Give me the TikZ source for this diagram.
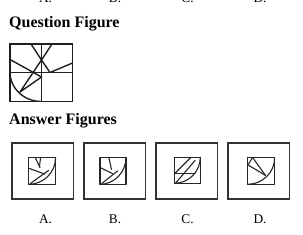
\documentclass[tikz,border=0pt]{standalone}
\usepackage{fontspec}
\setmainfont{Liberation Serif}
\begin{document}
\begin{tikzpicture}[x=1pt,y=-1pt,
  qframe/.style={draw=black!88,line width=1.6pt},
  qline/.style={draw=black!88,line width=1.4pt,line cap=round,line join=round},
  abox/.style={draw=black!80,line width=1.3pt},
  iline/.style={draw=black!85,line width=1.1pt,line cap=round,line join=round},
  head/.style={anchor=base west,inner sep=0pt,font=\fontsize{16}{19}\selectfont\bfseries},
  lab/.style={anchor=base,inner sep=0pt,font=\fontsize{13.3}{16}\selectfont}]
\useasboundingbox (0,0) rectangle (303,234);
% cut-off labels at the top edge
\node[lab] (ta) at (45.5,2.6) {A.};
\node[lab] (tb) at (115,2.6) {B.};
\node[lab] (tc) at (187.5,2.6) {C.};
\node[lab] (td) at (260,2.6) {D.};
% headings
\node[head] (hq) at (9,27) {Question Figure};
\node[head] (ha) at (9,124) {Answer Figures};
% question figure
\begin{scope}
\clip (10,44) rectangle (72.5,101.5);
\draw[qline] (10,72.5) .. controls (10,88.5) and (24.1,101.5) .. (41.5,101.5);
\end{scope}
\coordinate (qv) at (41.5,60);
\coordinate (qm) at (50,72.5);
\coordinate (qq) at (41.5,77);
\coordinate (qp) at (20,92);
\draw[qline] (31,44) -- (qv) -- (52,44);
\draw[qline] (qv) -- (qm) -- (72.5,63);
\draw[qline] (10,59.5) -- (qq);
\draw[qline] (qv) -- (qp) -- (qq);
\draw[qline] (41.5,44) -- (41.5,101.5);
\draw[qline] (10,72.5) -- (72.5,72.5);
\draw[qframe] (10,44) rectangle (72.5,101.5);
% answer boxes
\draw[abox] (12,143) rectangle (73.5,199);
\draw[abox] (84,143) rectangle (145.5,199);
\draw[abox] (156,143) rectangle (217.5,199);
\draw[abox] (228,143) rectangle (289.5,199);
% labels
\node[lab] (la) at (45.5,223) {A.};
\node[lab] (lb) at (115,223) {B.};
\node[lab] (lc) at (187.5,223) {C.};
\node[lab] (ld) at (260,223) {D.};
% inner figure A
\begin{scope}[shift={(28.8,184.3)},x={(26.8pt,0pt)},y={(0pt,26.8pt)}]
\draw[iline] (0,0) .. controls (0.5523,0) and (1,0.4477) .. (1,1);
\draw[iline] (0.24,1) -- (0.42,0.62);
\draw[iline] (0.44,1) -- (0.40,0.68);
\draw[iline] (0,0.6) -- (0.6,0.38);
\draw[iline] (0.06,0.03) -- (0.74,0.52);
\draw[iline] (0,0) rectangle (1,1);
\end{scope}
% inner figure B
\begin{scope}[shift={(100,184.3)},x={(26pt,0pt)},y={(0pt,26.8pt)}]
\draw[iline] (0,0) .. controls (0.5523,0) and (1,0.4477) .. (1,1);
\draw[iline] (0.34,1) -- (0.44,0.56);
\draw[iline] (0,0.63) -- (0.48,0.40);
\draw[iline] (0.07,0.03) -- (0.68,0.50);
\draw[iline] (0,0) rectangle (1,1);
\end{scope}
% inner figure C
\begin{scope}[shift={(174.3,183.3)},x={(26pt,0pt)},y={(0pt,26pt)}]
\draw[iline] (0,0) .. controls (0.5523,0) and (1,0.4477) .. (1,1);
\draw[iline] (0,0.36) -- (0.64,1);
\draw[iline] (0,0.36) -- (0.80,0.36);
\draw[iline] (0.06,0.02) -- (0.80,0.88);
\draw[iline] (0,0) rectangle (1,1);
\end{scope}
% inner figure D
\begin{scope}[shift={(247.7,184.3)},x={(27pt,0pt)},y={(0pt,26.8pt)}]
\draw[iline] (0,0) .. controls (0.5523,0) and (1,0.4477) .. (1,1);
\draw[iline] (0.66,0.33) -- (0,0.73);
\draw[iline] (0.66,0.33) -- (0.18,1);
\draw[iline] (0,0.71) -- (0.18,1);
\draw[iline] (0,0) rectangle (1,1);
\end{scope}
\end{tikzpicture}
\end{document}
